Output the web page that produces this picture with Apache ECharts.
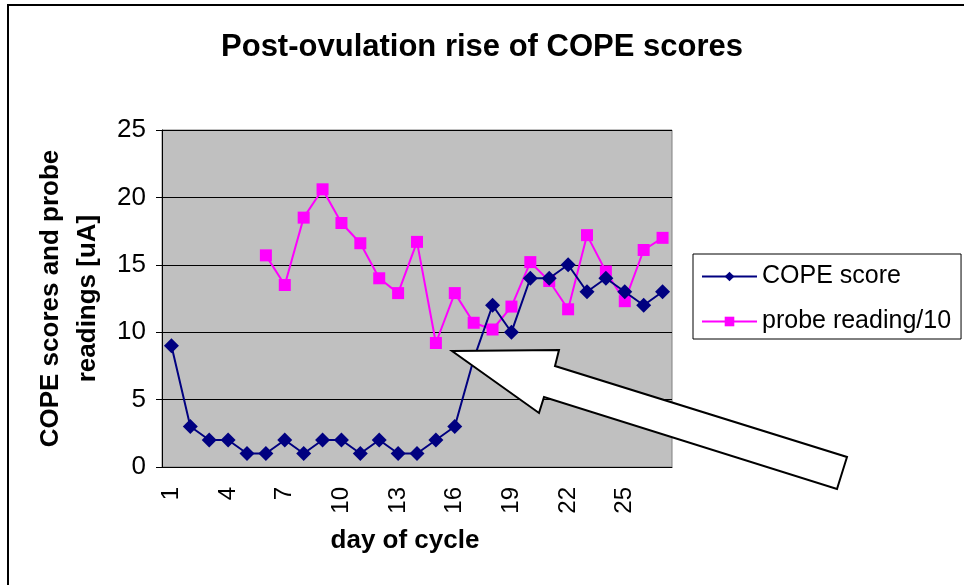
<!DOCTYPE html>
<html>
<head>
<meta charset="utf-8">
<script src="https://cdn.jsdelivr.net/npm/echarts@6/dist/echarts.min.js"></script>
<style>
  html, body { margin: 0; padding: 0; background: #fff; }
  #chart { width: 964px; height: 585px; }
</style>
</head>
<body>
<div id="chart"></div>
<script>
// day of cycle 1..27
var days = ['1','2','3','4','5','6','7','8','9','10','11','12','13','14','15','16','17','18','19','20','21','22','23','24','25','26','27'];
var copeScore = [9, 3, 2, 2, 1, 1, 2, 1, 2, 2, 1, 2, 1, 1, 2, 3, 8, 12, 10, 14, 14, 15, 13, 14, 13, 12, 13];
var probeReading = [null, null, null, null, null, 15.7, 13.5, 18.5, 20.6, 18.1, 16.6, 14.0, 12.9, 16.7, 9.2, 12.9, 10.7, 10.2, 11.9, 15.2, 13.8, 11.7, 17.2, 14.5, 12.3, 16.1, 17.0];
var yTicks = [0, 5, 10, 15, 20, 25];

var FONT = '"Liberation Sans", Arial, sans-serif';

var chart = echarts.init(document.getElementById('chart'));

var option = {
    backgroundColor: '#fff',
    animation: false,
    title: {
        text: 'Post-ovulation rise of COPE scores',
        left: 'center',
        top: 27,
        textStyle: {
            fontFamily: FONT,
            fontSize: 31,
            fontWeight: 'bold',
            color: '#000'
        }
    },
    legend: {
        left: 693,
        top: 254,
        orient: 'vertical',
        itemWidth: 55,
        itemHeight: 12,
        itemGap: 20,
        padding: [10, 10, 5, 8],
        borderColor: '#000',
        borderWidth: 1,
        backgroundColor: '#fff',
        textStyle: {
            fontFamily: FONT,
            fontSize: 25,
            color: '#000'
        },
        data: ['COPE score', 'probe reading/10']
    },
    grid: {
        left: 162,
        right: 292,
        top: 130,
        bottom: 118,
        show: true,
        backgroundColor: '#c0c0c0',
        borderColor: '#808080',
        borderWidth: 1
    },
    xAxis: {
        type: 'category',
        data: days,
        boundaryGap: true,
        name: 'day of cycle',
        nameLocation: 'middle',
        nameGap: 61,
        nameTextStyle: {
            fontFamily: FONT,
            fontSize: 26,
            fontWeight: 'bold',
            color: '#000',
            padding: [0, 24, 0, 0]
        },
        axisLine: {
            lineStyle: { color: '#000', width: 1 }
        },
        axisTick: {
            interval: 0,
            length: 6,
            lineStyle: { color: '#000' }
        },
        axisLabel: {
            interval: 2,
            rotate: 90,
            margin: 20,
            fontFamily: FONT,
            fontSize: 24,
            color: '#000'
        }
    },
    yAxis: {
        type: 'value',
        min: 0,
        max: 25,
        interval: 5,
        name: 'COPE scores and probe\nreadings [uA]',
        nameLocation: 'middle',
        nameGap: 56,
        nameTextStyle: {
            fontFamily: FONT,
            fontSize: 26,
            fontWeight: 'bold',
            color: '#000',
            lineHeight: 37
        },
        axisLine: {
            show: true,
            lineStyle: { color: '#000', width: 1 }
        },
        axisTick: {
            show: true,
            length: 6,
            lineStyle: { color: '#000' }
        },
        axisLabel: {
            margin: 16,
            fontFamily: FONT,
            fontSize: 26,
            color: '#000',
            formatter: function(v) {
                return yTicks.indexOf(v) >= 0 ? String(v) : '';
            }
        },
        splitLine: {
            show: true,
            lineStyle: { color: '#000', width: 1 }
        }
    },
    series: [{
            name: 'COPE score',
            type: 'line',
            data: copeScore,
            symbol: 'diamond',
            symbolSize: 15,
            showAllSymbol: true,
            itemStyle: { color: '#000080' },
            lineStyle: { color: '#000080', width: 2 },
            z: 3
        },
        {
            name: 'probe reading/10',
            type: 'line',
            data: probeReading,
            symbol: 'rect',
            symbolSize: 12,
            showAllSymbol: true,
            itemStyle: { color: '#ff00ff' },
            lineStyle: { color: '#ff00ff', width: 2 },
            z: 2
        }
    ],
    graphic: [{
            // outer chart frame
            type: 'rect',
            shape: { x: 8, y: 5, width: 1000, height: 700 },
            style: { fill: null, stroke: '#000', lineWidth: 2 },
            silent: true,
            z: 1
        },
        {
            // block arrow pointing at day 15
            type: 'polygon',
            shape: {
                points: [
                    [452, 351],
                    [559, 350],
                    [555, 366],
                    [847, 457],
                    [837, 489],
                    [544, 397],
                    [539, 413]
                ]
            },
            style: { fill: '#fff', stroke: '#000', lineWidth: 2 },
            silent: true,
            z: 100
        }
    ]
};

chart.setOption(option);
</script>
</body>
</html>
